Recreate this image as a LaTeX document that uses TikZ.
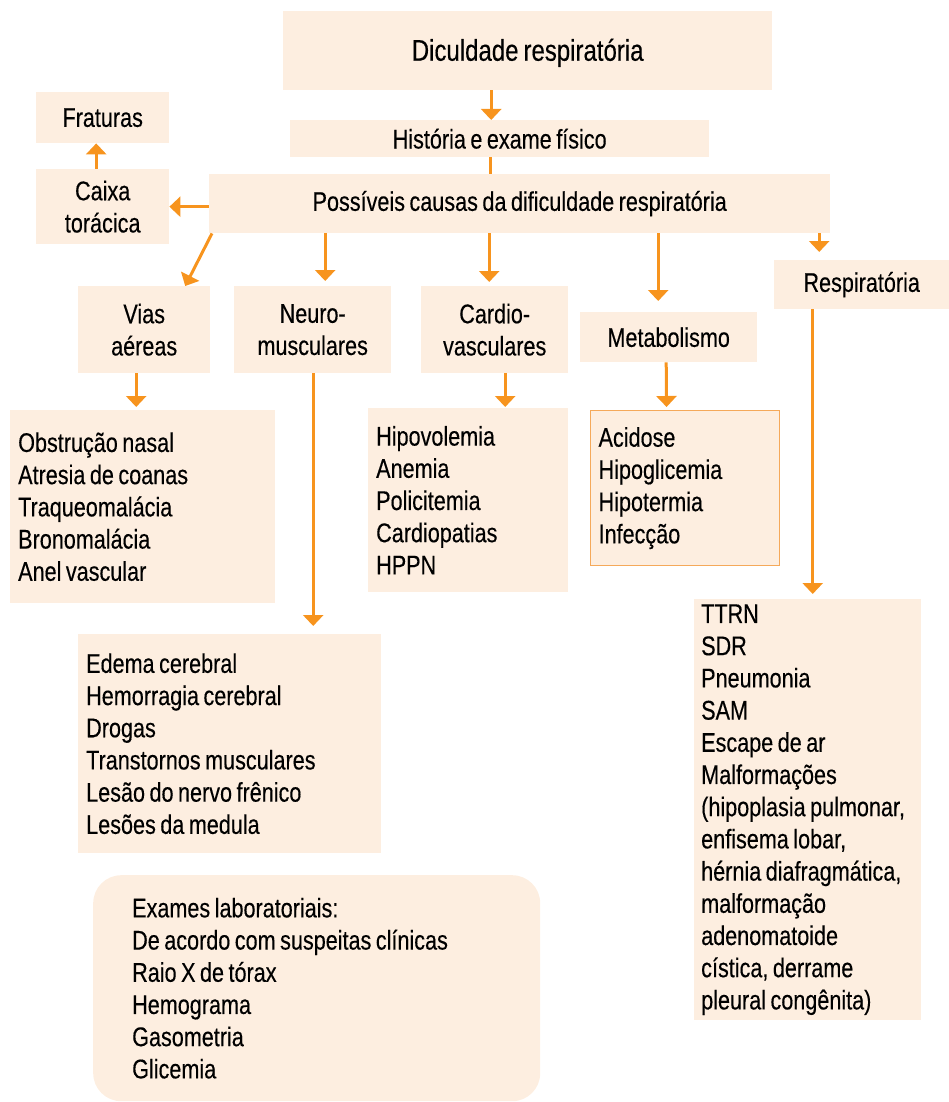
\documentclass[tikz,border=0pt]{standalone}
\usepackage{fontspec}
\setmainfont{Liberation Sans}[FakeStretch=0.8,WordSpace=0.75,FakeBold=0.3]
\usetikzlibrary{arrows.meta,calc}
\definecolor{boxfill}{HTML}{FDEEE0}
\definecolor{arrorange}{HTML}{F7941E}
\definecolor{edgeorange}{HTML}{F5A95A}
\newcommand\fsnorm{\fontsize{27}{32.2}\selectfont}
\newcommand\fsbig{\fontsize{30}{34}\selectfont}
\tikzset{
  box/.style={fill=boxfill, inner sep=0pt, anchor=north west, align=center, font=\fsnorm},
  listbox/.style={box, align=flush left, inner xsep=8pt,
    execute at begin node={\spaceskip=0pt\xspaceskip=0pt}},
  arr/.style={draw=arrorange, line width=3pt, -{Triangle[width=20pt,length=11pt]}},
  plainline/.style={draw=arrorange, line width=3pt}
}
\begin{document}
\begin{tikzpicture}[x=1pt,y=-1pt]
\useasboundingbox (0,0) rectangle (949,1102);

\node[box, font=\fsbig, minimum width=489pt, minimum height=79pt, text depth=2pt] (top) at (283,11) {Diculdade respiratória};
\node[box, minimum width=419pt, minimum height=37pt] (hist) at (290,120) {História e exame físico};
\node[box, minimum width=621pt, minimum height=59pt] (poss) at (209,174) {Possíveis causas da dificuldade respiratória};
\node[box, minimum width=133pt, minimum height=51pt] (frat) at (36,92) {Fraturas};
\node[box, minimum width=133pt, minimum height=75pt] (caixa) at (36,169) {Caixa\\torácica};
\node[box, minimum width=132pt, minimum height=87pt] (vias) at (78,286) {Vias\\aéreas};
\node[box, minimum width=157pt, minimum height=87pt] (neuro) at (234,286) {Neuro-\\musculares};
\node[box, minimum width=147pt, minimum height=87pt] (cardio) at (421,286) {Cardio-\\vasculares};
\node[box, minimum width=177pt, minimum height=50pt] (metab) at (580,312) {Metabolismo};
\node[box, minimum width=175pt, minimum height=49pt] (resp) at (774,260) {Respiratória};

\node[listbox, text width=249pt, minimum height=193pt] (obst) at (10,410)
  {Obstrução nasal\\Atresia de coanas\\Traqueomalácia\\Bronomalácia\\Anel vascular};
\node[listbox, text width=184pt, minimum height=184pt] (hipo) at (368,408)
  {Hipovolemia\\Anemia\\Policitemia\\Cardiopatias\\HPPN};
\node[listbox, draw=edgeorange, line width=1.2pt, text width=173pt, minimum height=155pt] (acid) at (590,410)
  {Acidose\\Hipoglicemia\\Hipotermia\\Infecção};
\node[listbox, text width=287pt, minimum height=219pt] (edema) at (78,634)
  {Edema cerebral\\Hemorragia cerebral\\Drogas\\Transtornos musculares\\Lesão do nervo frênico\\Lesões da medula};
\node[listbox, inner xsep=7pt, text width=213pt, minimum height=421pt] (ttrn) at (694,599)
  {TTRN\\SDR\\Pneumonia\\SAM\\Escape de ar\\Malformações\\(hipoplasia pulmonar,\\enfisema lobar,\\hérnia diafragmática,\\malformação\\adenomatoide\\cística, derrame\\pleural congênita)};
\node[listbox, rounded corners=28pt, inner xsep=39pt, text width=369pt, minimum height=226pt] (exames) at (93,875)
  {Exames laboratoriais:\\De acordo com suspeitas clínicas\\Raio X de tórax\\Hemograma\\Gasometria\\Glicemia};

% connectors
\draw[arr] ([xshift=-36.5pt]top.south) -- ([xshift=-8.5pt]hist.north);
\draw[plainline] ([xshift=-9.5pt]hist.south) -- ([xshift=-29.5pt]poss.north);
\draw[arr] (poss.west |- caixa.east) -- (caixa.east);
\draw[arr] ([xshift=-6.5pt]caixa.north) -- ([xshift=-6.5pt]frat.south);
\draw[arr] ([xshift=3pt]poss.south west) -- ([xshift=41pt]vias.north);
\draw[arr, shorten >=5pt] ([xshift=-194.5pt]poss.south) -- ([xshift=12.5pt]neuro.north);
\draw[arr, shorten >=4pt] ([xshift=-30.5pt]poss.south) -- ([xshift=-5.5pt]cardio.north);
\draw[arr, shorten >=11pt] ([xshift=138.5pt]poss.south) -- ([xshift=-10.5pt]metab.north);
\draw[arr, shorten >=8pt] ([xshift=299.5pt]poss.south) -- ([xshift=-42.5pt]resp.north);
\draw[arr, shorten >=3pt] ([xshift=-8pt]vias.south) -- ([xshift=-6.5pt]obst.north);
\draw[arr, shorten >=8pt] ([xshift=0.5pt]neuro.south) -- ([xshift=83.5pt]edema.north);
\draw[arr, shorten >=1pt] ([xshift=10.5pt]cardio.south) -- ([xshift=37pt]hipo.north);
\draw[arr, shorten >=3pt] ([xshift=-2.5pt]metab.south) -- ([xshift=-18.5pt]acid.north);
\draw[arr, shorten >=5pt] ([xshift=-49pt]resp.south) -- ([xshift=5pt]ttrn.north);
\end{tikzpicture}
\end{document}
